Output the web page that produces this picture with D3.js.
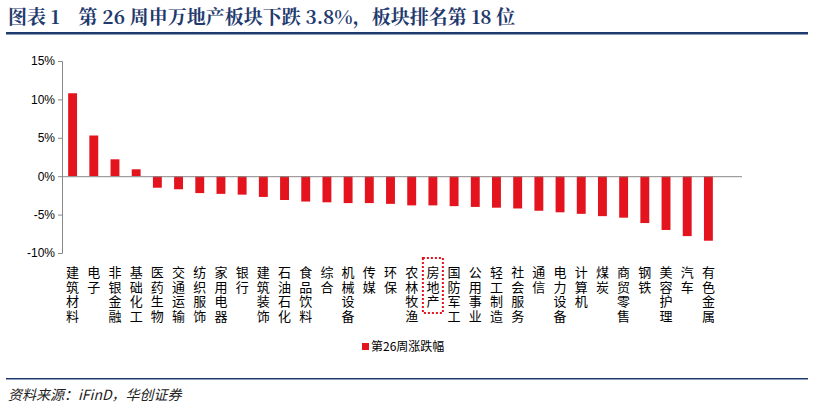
<!DOCTYPE html><html><head><meta charset="utf-8"><script src="https://cdn.jsdelivr.net/npm/d3@7"></script>
<style>body{margin:0;background:#fff}svg{font-family:"Noto Sans CJK SC",sans-serif}</style></head><body><svg id="c" width="814" height="409"></svg>
<script>
const categories=["建筑材料","电子","非银金融","基础化工","医药生物","交通运输","纺织服饰","家用电器","银行","建筑装饰","石油石化","食品饮料","综合","机械设备","传媒","环保","农林牧渔","房地产","国防军工","公用事业","轻工制造","社会服务","通信","电力设备","计算机","煤炭","商贸零售","钢铁","美容护理","汽车","有色金属"];
const values=[10.8,5.3,2.2,0.9,-1.5,-1.7,-2.2,-2.3,-2.4,-2.7,-3.1,-3.3,-3.4,-3.5,-3.5,-3.6,-3.8,-3.8,-3.9,-4.0,-4.1,-4.2,-4.5,-4.7,-4.9,-5.2,-5.4,-6.1,-7.0,-7.8,-8.4];
const yTicks=[-10,-5,0,5,10,15];
const svg=d3.select("#c");
const navy="#1f3a6e";
svg.append("text").attr("x",8).attr("y",24).attr("fill",navy).attr("font-size",19).attr("font-weight","bold").attr("font-family","Noto Serif CJK SC,Noto Sans CJK SC,serif").text("图表 1　第 26 周申万地产板块下跌 3.8%，板块排名第 18 位");
svg.append("rect").attr("x",6).attr("y",32).attr("width",802).attr("height",2.5).attr("fill",navy);
svg.append("rect").attr("x",6).attr("y",378).attr("width",802).attr("height",1.5).attr("fill",navy);
svg.append("text").attr("x",8).attr("y",400).attr("font-size",14).attr("font-style","italic").attr("fill","#222").text("资料来源：iFinD，华创证券");
const x=d3.scaleBand().domain(categories).range([62,719]).paddingInner(0.58).paddingOuter(0.29);
const y=d3.scaleLinear().domain([-10,15]).range([253,61]);
svg.append("g").attr("transform","translate(62,0)").call(d3.axisLeft(y).tickValues(yTicks).tickFormat(d=>d+"%").tickSize(4)).call(g=>{g.selectAll("text").attr("font-size",12).attr("fill","#000").attr("font-family","Liberation Sans,Arial");g.selectAll("line,path").attr("stroke","#888");g.select("path").attr("d","M-4,61.5H0.5V253.5H-4")});
svg.selectAll(".b").data(values).join("rect").attr("fill","#e3141d").attr("x",(d,i)=>x(categories[i])).attr("width",x.bandwidth()).attr("y",d=>y(Math.max(0,d))).attr("height",d=>Math.abs(y(d)-y(0)));
svg.append("line").attr("x1",62).attr("x2",742).attr("y1",y(0)+0.5).attr("y2",y(0)+0.5).attr("stroke","#888");
categories.forEach((c,i)=>{const cx=x(c)+x.bandwidth()/2;const t=svg.append("text").attr("text-anchor","middle").attr("font-size",13).attr("fill","#000");
 [...c].forEach((ch,j)=>t.append("tspan").attr("x",cx).attr("y",277+j*14.7).text(ch));
 if(c==="房地产")svg.append("rect").attr("x",cx-10).attr("y",258).attr("width",20).attr("height",55).attr("fill","none").attr("stroke","#e3141d").attr("stroke-width",2).attr("stroke-dasharray","2,2");});
svg.append("rect").attr("x",362).attr("y",343).attr("width",7).attr("height",7).attr("fill","#e3141d");
svg.append("text").attr("x",371).attr("y",351).attr("font-size",12).text("第26周涨跌幅");
</script></body></html>
